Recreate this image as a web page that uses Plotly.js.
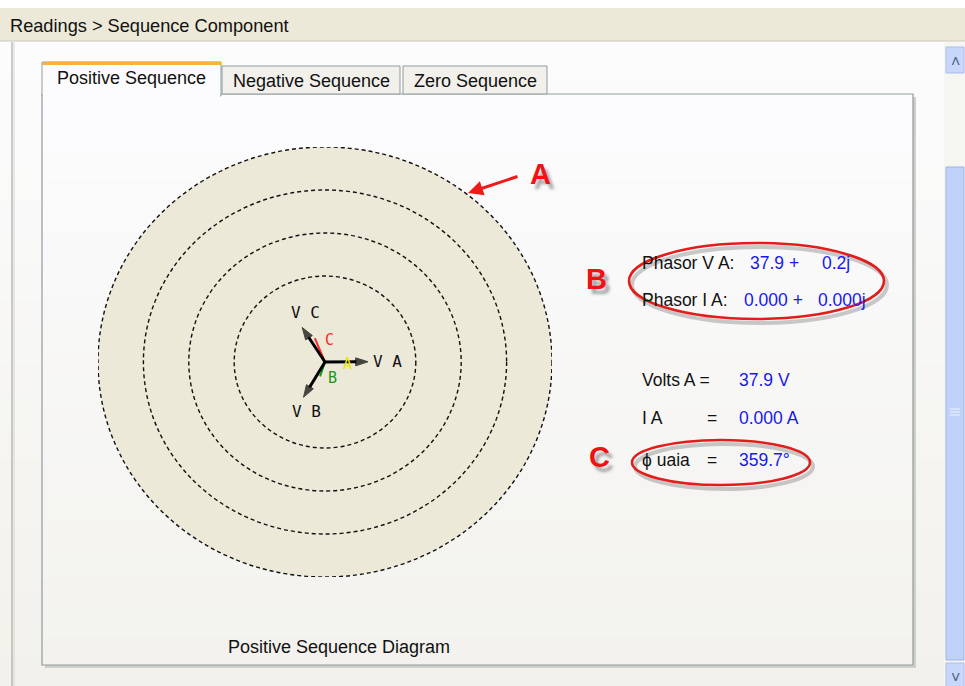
<!DOCTYPE html>
<html><head><meta charset="utf-8">
<script src="https://cdn.plot.ly/plotly-3.0.1.min.js"></script>
<style>html,body{margin:0;padding:0;background:#fff}#chart{width:965px;height:686px}</style>
</head><body><div id="chart"></div>
<script>
// ---------- data ----------
const phasorNames = ['V A', 'V B', 'V C'];
const phasorMag = [37.9, 37.9, 37.9];          // volts
const phasorAngle = [0.3, 240, 122];           // degrees
const currentNames = ['A', 'B', 'C'];
const currentColors = ['#E8E800', '#1C961C', '#FF2A2A'];
const currentDrawLen = [13, 14, 24];           // drawn length (display units)
const currentAngle = [0, 252, 112];            // degrees
const ringRadii = [80, 120, 160, 200];         // volts
const tabLabels = ['Positive Sequence', 'Negative Sequence', 'Zero Sequence'];
const phasorRowLabels = ['Phasor V A:', 'Phasor I A:'];
const phasorRowReal = ['37.9 +', '0.000 +'];
const phasorRowImag = ['0.2j', '0.000j'];
const readLabels = ['Volts A =', 'I A', '\u03D5 uaia'];
const readValues = ['37.9 V', '0.000 A', '359.7\u00B0'];
const markerLetters = ['A', 'B', 'C'];
const headerText = 'Readings > Sequence Component';
const diagramTitle = 'Positive Sequence Diagram';

// ---------- helpers ----------
const W = 965, H = 686;
const X = x => x / W;
const Y = y => 1 - y / H;
const FONT = '"Liberation Sans", Arial, sans-serif';
const shapes = [];
const ann = [];
function rect(x0, y0, x1, y1, fill, line, lw, layer) {
  shapes.push({type: 'rect', xref: 'paper', yref: 'paper', x0: X(x0), x1: X(x1), y0: Y(y1), y1: Y(y0),
    fillcolor: fill, line: {color: line || 'rgba(0,0,0,0)', width: lw || 0}, layer: layer || 'below'});
}
function seg(x0, y0, x1, y1, color, w, layer) {
  shapes.push({type: 'line', xref: 'paper', yref: 'paper', x0: X(x0), x1: X(x1), y0: Y(y0), y1: Y(y1),
    line: {color: color, width: w}, layer: layer || 'below'});
}
function text(t, x, y, opts) {
  opts = opts || {};
  const f = {family: opts.family || FONT, size: opts.size || 16, color: opts.color || '#000', weight: opts.weight || 'normal'};
  if (opts.shadow) f.shadow = opts.shadow;
  ann.push({text: t, xref: 'paper', yref: 'paper', x: X(x), y: Y(y), showarrow: false,
    xanchor: opts.xa || 'left', yanchor: opts.ya || 'middle', font: f});
}
function lerpColor(a, b, t) {
  const pa = a.match(/\w\w/g).map(h => parseInt(h, 16)), pb = b.match(/\w\w/g).map(h => parseInt(h, 16));
  return 'rgb(' + pa.map((v, i) => Math.round(v + (pb[i] - v) * t)).join(',') + ')';
}

// ---------- window chrome ----------
rect(0, 0, W, 8, '#FFFFFF');
rect(0, 8, W, 41, '#ECE9D8');
seg(0, 41, W, 41, '#C9C6B8', 1);
const bands = 20;
for (let i = 0; i < bands; i++) {
  const y0 = 42 + (H - 42) * i / bands, y1 = 42 + (H - 42) * (i + 1) / bands + 1;
  rect(0, y0, 944, y1, lerpColor('FCFCFD', 'F2F1EC', i / (bands - 1)));
}
seg(12, 42, 12, H, '#A9A9A3', 1.2);
seg(14, 42, 14, H, '#D8D7D0', 1);

// tab box (shadow + border)
rect(45, 97, 916, 668, '#D0CFC8');
for (let i = 0; i < bands; i++) {
  const y0 = 94 + (665 - 94) * i / bands, y1 = 94 + (665 - 94) * (i + 1) / bands + 1;
  rect(42, y0, 913, Math.min(y1, 665), lerpColor('FCFCFE', 'F3F2EE', i / (bands - 1)));
}
rect(42, 94, 913, 665, 'rgba(0,0,0,0)', '#919B9C', 1.2);

// tabs
const tabX = [[42, 221], [222, 400], [403, 547]];
rect(222, 66, 400, 94, '#F1F0EB', '#919B9C', 1);
rect(403, 66, 547, 94, '#F1F0EB', '#919B9C', 1);
rect(42, 62, 221, 96, '#FCFCFE', '#919B9C', 1);
rect(43, 92, 220, 97, '#FCFCFE');
rect(42, 62, 221, 65, '#F4B43C');
tabLabels.forEach((t, i) => {
  text(t, (tabX[i][0] + tabX[i][1]) / 2, i === 0 ? 78 : 81, {xa: 'center', size: 18, color: '#111'});
});

// scrollbar
rect(944, 42, W, H, '#F5F5F1');
rect(946, 47, 964, 73, '#C8D6FB', '#A9BDEB', 1);
rect(946, 167, 964, 660, '#C1D2FA', '#9DB4E8', 1);
[0, 3, 6].forEach(d => seg(950, 409 + d, 960, 409 + d, '#EEF3FF', 1));
rect(946, 663, 964, H + 2, '#C8D6FB', '#A9BDEB', 1);
text('\u02C4', 955, 61, {xa: 'center', size: 16, color: '#4D6185'});
text('\u02C5', 955, 677, {xa: 'center', size: 16, color: '#4D6185'});

// header + caption
text(headerText, 8, 26, {size: 18.2, color: '#111'});
text(diagramTitle, 339, 647, {xa: 'center', size: 18, color: '#111'});

// ---------- phasor diagram (axes x2/y2) ----------
const maxR = ringRadii[ringRadii.length - 1];
shapes.push({type: 'circle', xref: 'x2', yref: 'y2', x0: -maxR, x1: maxR, y0: -maxR, y1: maxR,
  fillcolor: '#ECE9D8', line: {color: 'rgba(0,0,0,0)', width: 0}, layer: 'below'});
ringRadii.forEach(r => {
  shapes.push({type: 'circle', xref: 'x2', yref: 'y2', x0: -r, x1: r, y0: -r, y1: r,
    fillcolor: 'rgba(0,0,0,0)', line: {color: '#111', width: 1.4, dash: '4px,3px'}, layer: 'below'});
});

const rad = d => d * Math.PI / 180;
const traces = [];
currentNames.forEach((n, i) => {
  const ex = currentDrawLen[i] * Math.cos(rad(currentAngle[i]));
  const ey = currentDrawLen[i] * Math.sin(rad(currentAngle[i]));
  traces.push({x: [0, ex], y: [0, ey], xaxis: 'x2', yaxis: 'y2', mode: 'lines',
    line: {color: currentColors[i], width: 2}, hoverinfo: 'skip', showlegend: false});
  ann.push({text: n, xref: 'x2', yref: 'y2', x: ex, y: ey, showarrow: false,
    xanchor: 'left', yanchor: 'middle', xshift: i === 0 ? 1 : (i === 1 ? 6 : 8), yshift: -2,
    font: {family: '"DejaVu Sans Mono", monospace', size: 15, color: currentColors[i]}});
});
phasorNames.forEach((n, i) => {
  const ex = phasorMag[i] * Math.cos(rad(phasorAngle[i]));
  const ey = phasorMag[i] * Math.sin(rad(phasorAngle[i]));
  traces.push({x: [0, ex], y: [0, ey], xaxis: 'x2', yaxis: 'y2', mode: 'lines+markers',
    line: {color: '#000', width: 3},
    marker: {symbol: 'arrow', size: [0, 13], angleref: 'previous', color: '#000', line: {color: '#000', width: 1}},
    hoverinfo: 'skip', showlegend: false});
  const pos = i === 0 ? {xa: 'left', ya: 'middle', xs: 3, ys: 0} :
              i === 1 ? {xa: 'center', ya: 'top', xs: 3, ys: -3} :
                        {xa: 'center', ya: 'bottom', xs: 3, ys: 3};
  ann.push({text: n, xref: 'x2', yref: 'y2', x: ex, y: ey, showarrow: false,
    xanchor: pos.xa, yanchor: pos.ya, xshift: pos.xs, yshift: pos.ys,
    font: {family: '"DejaVu Sans Mono", monospace', size: 16, color: '#111'}});
});

// ---------- readouts ----------
const BLUE = '#1818F0';
const RS = 17.5;
phasorRowLabels.forEach((t, i) => {
  const y = 263 + i * 37;
  text(t, 640, y, {size: RS, color: '#111'});
  text(phasorRowReal[i], i === 0 ? 748 : 742, y, {size: RS, color: BLUE});
  text(phasorRowImag[i], i === 0 ? 820 : 816, y, {size: RS, color: BLUE});
});
readLabels.forEach((t, i) => {
  const y = [380, 418, 460][i];
  text(t, 640, y, {size: RS, color: '#111'});
  if (i > 0) text('=', 705, y, {size: RS, color: '#111'});
  text(readValues[i], 737, y, {size: RS, color: BLUE});
});

// ---------- red callouts ----------
function ellipse(x0, y0, x1, y1) {
  shapes.push({type: 'circle', xref: 'paper', yref: 'paper', x0: X(x0 + 3), x1: X(x1 + 3), y0: Y(y1 + 4), y1: Y(y0 + 4),
    line: {color: 'rgba(110,110,110,0.35)', width: 4}, layer: 'above'});
  shapes.push({type: 'circle', xref: 'paper', yref: 'paper', x0: X(x0), x1: X(x1), y0: Y(y1), y1: Y(y0),
    line: {color: '#E31C1C', width: 2.6}, layer: 'above'});
}
ellipse(629, 243, 884, 319);
ellipse(632, 440, 810, 485);
const letterPos = [[540, 174], [596, 279], [599, 457]];
markerLetters.forEach((l, i) => {
  text(l, letterPos[i][0], letterPos[i][1], {xa: 'center', size: 29, weight: 'bold', color: '#F01212',
    shadow: '4px 5px 3px rgba(70,70,70,0.45)'});
});
ann.push({xref: 'paper', yref: 'paper', axref: 'paper', ayref: 'paper', x: X(468), y: Y(193),
  ax: X(519), ay: Y(176), showarrow: true, arrowhead: 2, arrowsize: 1, arrowwidth: 3, arrowcolor: '#EE1A1A', text: ''});

const layout = {
  width: W, height: H, margin: {l: 0, r: 0, t: 0, b: 0},
  paper_bgcolor: '#FFFFFF', plot_bgcolor: 'rgba(0,0,0,0)',
  showlegend: false,
  xaxis: {visible: false, range: [0, 1]}, yaxis: {visible: false, range: [0, 1]},
  xaxis2: {domain: [X(98), X(552)], range: [-maxR, maxR], visible: false, anchor: 'y2', fixedrange: true},
  yaxis2: {domain: [Y(577), Y(147)], range: [-maxR, maxR], visible: false, anchor: 'x2', fixedrange: true},
  shapes: shapes, annotations: ann
};
Plotly.newPlot('chart', traces, layout, {displayModeBar: false, staticPlot: true});
</script></body></html>
